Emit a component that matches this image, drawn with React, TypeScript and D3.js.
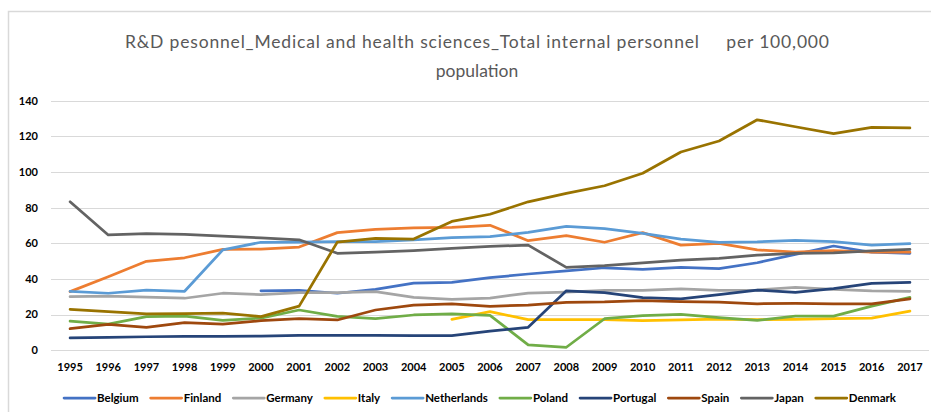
import React, { useEffect, useRef } from "react";
import * as d3 from "d3";

const years = [
  "1995","1996","1997","1998","1999","2000","2001","2002","2003","2004","2005","2006",
  "2007","2008","2009","2010","2011","2012","2013","2014","2015","2016","2017",
];

const belgium = [null, null, null, null, null, 33.4, 33.6, 32.0, 34.2, 37.7, 38.1, 40.7, 42.8, 44.5, 46.3, 45.4, 46.5, 45.8, 49.1, 53.8, 58.5, 55.0, 54.4];
const finland = [32.9, 41.3, 49.9, 51.9, 56.6, 56.8, 57.9, 66.0, 67.8, 68.6, 69.0, 70.1, 61.5, 64.3, 60.6, 66.0, 59.0, 60.0, 56.3, 55.1, 55.9, 55.0, 55.0];
const germany = [30.1, 30.4, 29.8, 29.2, 32.0, 31.2, 32.3, 32.3, 32.9, 29.7, 28.6, 29.3, 32.1, 32.7, 33.6, 33.6, 34.4, 33.6, 33.8, 35.3, 34.2, 33.4, 33.1];
const italy = [null, null, null, null, null, null, null, null, null, null, 17.4, 21.7, 17.2, 17.2, 17.2, 16.6, 17.0, 17.5, 17.2, 17.4, 17.7, 18.1, 22.0];
const netherlands = [33.1, 32.0, 33.8, 33.1, 56.3, 60.6, 60.7, 60.9, 61.0, 62.0, 63.2, 63.7, 66.2, 69.5, 68.2, 65.6, 62.4, 60.6, 60.8, 61.7, 60.9, 59.0, 59.8];
const poland = [16.4, 14.7, 18.9, 19.2, 16.8, 18.1, 22.6, 19.0, 17.7, 19.8, 20.4, 19.6, 3.0, 1.7, 17.7, 19.4, 20.2, 18.3, 16.8, 19.2, 19.2, 24.8, 29.7];
const portugal = [6.9, 7.2, 7.6, 7.8, 7.8, 8.0, 8.4, 8.4, 8.4, 8.2, 8.2, 10.7, 12.9, 33.4, 32.3, 29.5, 28.8, 31.2, 33.8, 32.5, 34.6, 37.6, 38.1];
const spain = [12.1, 14.6, 12.9, 15.5, 14.7, 16.6, 17.7, 17.0, 22.6, 25.4, 26.1, 24.7, 25.4, 26.9, 27.1, 27.8, 27.3, 27.0, 26.1, 26.3, 26.1, 26.1, 28.9];
const japan = [83.3, 64.7, 65.4, 65.0, 64.1, 63.0, 62.0, 54.4, 55.0, 55.9, 57.2, 58.3, 59.0, 46.5, 47.5, 49.1, 50.6, 51.6, 53.4, 54.4, 54.6, 55.7, 56.6];
const denmark = [23.0, 21.7, 20.4, 20.6, 20.8, 18.9, 24.8, 60.7, 62.8, 62.4, 72.3, 76.3, 83.3, 88.0, 92.3, 99.3, 111.2, 117.4, 129.3, 125.4, 121.5, 125.0, 124.7];

const seriesNames = ["Belgium","Finland","Germany","Italy","Netherlands","Poland","Portugal","Spain","Japan","Denmark"];
const seriesValues = [belgium, finland, germany, italy, netherlands, poland, portugal, spain, japan, denmark];
const seriesColors = ["#4472C4","#ED7D31","#A5A5A5","#FFC000","#5B9BD5","#70AD47","#264478","#9E480E","#636363","#997300"];

const yTicks = [0, 20, 40, 60, 80, 100, 120, 140];
const titleLines = ["R\u0026D pesonnel_Medical and health sciences_Total internal personnel\u00a0\u00a0\u00a0\u00a0 per 100,000", "population"];

const W = 931;
const H = 412;
const FONT = "Lato, 'Open Sans', sans-serif";

export default function App() {
  const ref = useRef<SVGSVGElement | null>(null);

  useEffect(() => {
    const svg = d3.select(ref.current);
    svg.selectAll("*").remove();

    const left = 51, right = 929, top = 100.7, bottom = 350.3;
    const x = d3.scalePoint<string>().domain(years).range([left, right]).padding(0.5);
    const y = d3.scaleLinear().domain([0, 140]).range([bottom, top]);

    // chart frame
    svg.append("rect").attr("x", 0).attr("y", 0).attr("width", W).attr("height", H).attr("fill", "#fff");
    svg.append("path").attr("d", `M8.5,${H} V11.5 H${W}`).attr("fill", "none").attr("stroke", "#D9D9D9").attr("stroke-width", 1.5);

    // title
    const title = svg.append("g").attr("fill", "#595959").style("font-family", FONT).style("font-size", "17.5px");
    titleLines.forEach((t, i) => {
      const tx = title.append("text").attr("x", 477).attr("y", 48 + i * 29).attr("text-anchor", "middle").text(t);
      if (i === 0) tx.attr("textLength", 704).attr("lengthAdjust", "spacing");
    });

    // gridlines
    svg.append("g").selectAll("line").data(yTicks).join("line")
      .attr("x1", left).attr("x2", right)
      .attr("y1", d => Math.round(y(d)) + 0.5).attr("y2", d => Math.round(y(d)) + 0.5)
      .attr("stroke", "#D9D9D9").attr("stroke-width", 1);

    // y axis labels
    svg.append("g").selectAll("text").data(yTicks).join("text")
      .attr("x", 38).attr("y", d => y(d)).attr("dy", "0.35em")
      .attr("text-anchor", "end")
      .style("font-family", FONT).style("font-size", "11px").style("font-weight", "bold")
      .attr("fill", "#000")
      .text(d => String(d));

    // x axis labels
    svg.append("g").selectAll("text").data(years).join("text")
      .attr("x", d => x(d) as number).attr("y", 367).attr("dy", "0.35em")
      .attr("text-anchor", "middle")
      .style("font-family", FONT).style("font-size", "11px").style("font-weight", "bold")
      .attr("fill", "#000")
      .text(d => d);

    // lines
    const line = d3.line<number | null>()
      .defined(d => d !== null)
      .x((_, i) => x(years[i]) as number)
      .y(d => y(d as number));

    seriesValues.forEach((vals, si) => {
      svg.append("path")
        .datum(vals)
        .attr("d", line as any)
        .attr("fill", "none")
        .attr("stroke", seriesColors[si])
        .attr("stroke-width", 2.75)
        .attr("stroke-linejoin", "round")
        .attr("stroke-linecap", "round");
    });

    // legend
    const lg = svg.append("g");
    const lineLen = 31, lineGap = 2, itemGap = 12, ly = 398;
    const items = seriesNames.map((name, i) => {
      const g = lg.append("g");
      g.append("line").attr("x1", 0).attr("x2", lineLen).attr("y1", ly).attr("y2", ly)
        .attr("stroke", seriesColors[i]).attr("stroke-width", 2.75).attr("stroke-linecap", "round");
      const t = g.append("text").attr("x", lineLen + lineGap).attr("y", ly).attr("dy", "0.35em")
        .style("font-family", FONT).style("font-size", "11.5px").style("font-weight", "bold")
        .attr("fill", "#000").text(name);
      const w = (t.node() as SVGTextElement).getComputedTextLength();
      return { g, w: lineLen + lineGap + w };
    });
    const total = items.reduce((s, it) => s + it.w, 0) + itemGap * (items.length - 1);
    let cx = 480 - total / 2;
    items.forEach(it => {
      it.g.attr("transform", `translate(${cx},0)`);
      cx += it.w + itemGap;
    });
  }, []);

  return (
    <svg
      ref={ref}
      width={W}
      height={H}
      style={{ position: "absolute", left: 0, top: 0, display: "block" }}
    />
  );
}
